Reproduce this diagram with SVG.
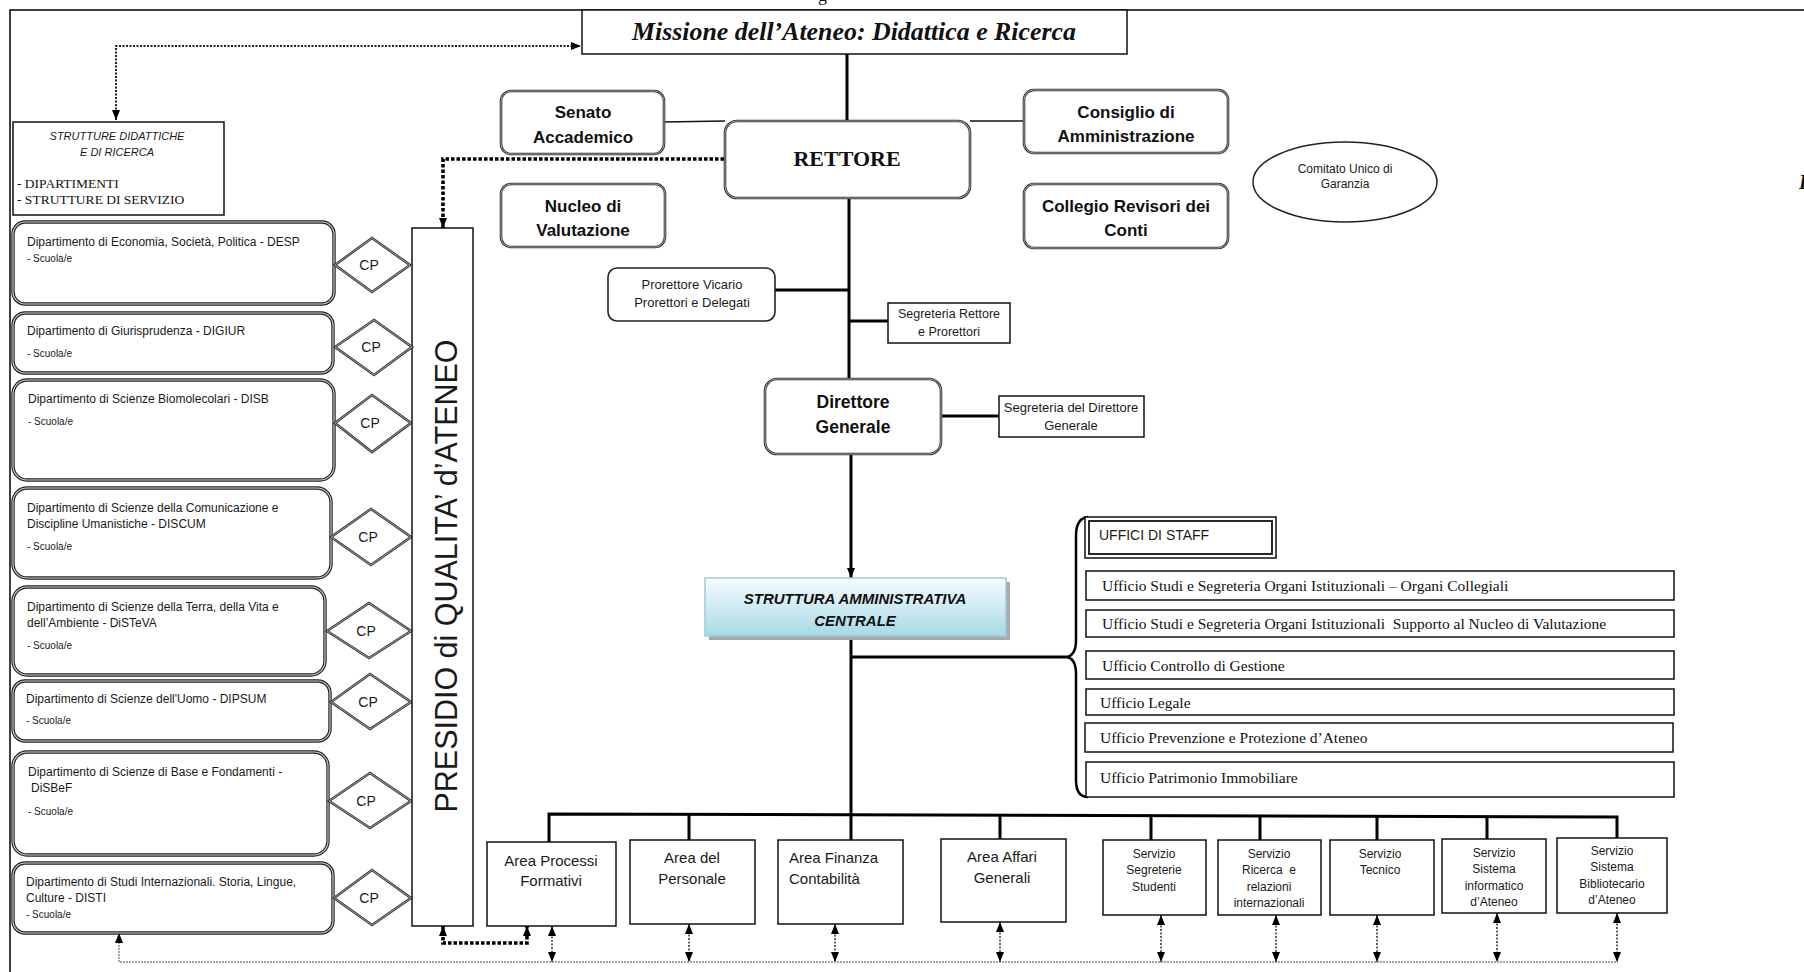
<svg xmlns="http://www.w3.org/2000/svg" width="1804" height="972" viewBox="0 0 1804 972">
<style>
.s{font-family:"Liberation Sans",Arial,sans-serif;fill:#1a1a1a}
.sb{font-family:"Liberation Sans",Arial,sans-serif;font-weight:bold;fill:#111}
.sr{font-family:"Liberation Serif","Times New Roman",serif;fill:#111}
.c{text-anchor:middle}
.box{fill:#fff;stroke:#111;stroke-width:1.5}
.rb{fill:#fff;stroke:#333;stroke-width:2.6}
.rbi{fill:none;stroke:#bbb;stroke-width:0.8}
.db{fill:#fff;stroke:#222;stroke-width:3.4}
.dbi{fill:none;stroke:#d4d4d4;stroke-width:1.1}
.dia{fill:#fff;stroke:#333;stroke-width:2.6}
.diai{fill:none;stroke:#bbb;stroke-width:0.8}
.ln{fill:none;stroke:#000;stroke-width:3}
.lt{fill:none;stroke:#111;stroke-width:1.5}
.dt{fill:none;stroke:#222;stroke-width:2;stroke-dasharray:2 1.5}
.dk{fill:none;stroke:#000;stroke-width:3.6;stroke-dasharray:3.5 2}
.dg{fill:none;stroke:#888;stroke-width:1.5;stroke-dasharray:2 1}
.da{fill:none;stroke:#333;stroke-width:1.5;stroke-dasharray:2 1.5}
.ar{marker-start:url(#ah);marker-end:url(#ah)}
</style>
<defs>
<marker id="ah" viewBox="0 0 10 8" refX="10" refY="4" markerWidth="10" markerHeight="8" markerUnits="userSpaceOnUse" orient="auto-start-reverse">
<path d="M0,0 L10,4 L0,8 z" fill="#000"/>
</marker>
<linearGradient id="gr" x1="0" y1="0" x2="0" y2="1">
<stop offset="0" stop-color="#f6fcfe"/>
<stop offset="1" stop-color="#a6d9e6"/>
</linearGradient>
</defs>
<rect width="1804" height="972" fill="#fff"/>
<path d="M10,972 V10 H1804" fill="none" stroke="#000" stroke-width="1.5"/>
<text class="sr" x="818" y="1" font-size="18">g</text>
<text class="sr" x="1799" y="189" font-size="20" font-weight="bold" font-style="italic">I</text>

<g id="connectors">
<path class="ln" d="M847,54 V121" stroke-width="2.5"/>
<path class="lt" d="M664,122 L725,121"/>
<path class="lt" d="M970,121 L1024,121"/>
<path class="ln" d="M849,198 V379"/>
<path class="ln" d="M775,290 H849"/>
<path class="ln" d="M849,321 H888"/>
<path class="ln" d="M941,416 H999"/>
<path class="ln" d="M851,454 V578" marker-end="url(#ah)"/>
<path class="ln" d="M851,636 V840"/>
<path class="ln" d="M851,657 H1066" stroke-width="2.5"/>
<path class="ln" d="M549,842 V814 L1617,817 V838"/>
<path class="ln" d="M689,815 V840 M1000,816 V839 M1151,816 V840 M1260,816 V840 M1377,816 V840 M1487,817 V839"/>
<path d="M1088,517 Q1076,518 1076,536 L1076,640 Q1076,656 1066,657 Q1076,658 1076,674 L1076,780 Q1076,797 1088,797" fill="none" stroke="#000" stroke-width="2.5"/>
<path class="dt ar" d="M116,120 V46 H581"/>
<path class="dk" d="M724,159 H443 V228" marker-end="url(#ah)"/>
<path class="dk ar" d="M443,926 V943 H527 V926"/>
<path class="dg" d="M119,933 V962 H1618" marker-start="url(#ah)"/>
<path class="da ar" d="M552,926 V962"/>
<path class="da ar" d="M689,924 V962"/>
<path class="da ar" d="M835,924 V962"/>
<path class="da ar" d="M1000,922 V962"/>
<path class="da ar" d="M1161,915 V962"/>
<path class="da ar" d="M1276,915 V962"/>
<path class="da ar" d="M1377,915 V962"/>
<path class="da ar" d="M1497,913 V962"/>
<path class="da ar" d="M1617,913 V962"/>
</g>

<g id="missione">
<rect class="box" x="582" y="10" width="545" height="44"/>
<text class="sr c" x="854" y="40" font-size="25" font-weight="bold" font-style="italic" textLength="444" lengthAdjust="spacingAndGlyphs">Missione dell’Ateneo: Didattica e Ricerca</text>
</g>

<g id="strutture-didattiche">
<rect class="box" x="13" y="122" width="211" height="93"/>
<text class="s c" x="117" y="140" font-size="11" font-style="italic">STRUTTURE DIDATTICHE</text>
<text class="s c" x="117" y="156" font-size="11" font-style="italic">E DI RICERCA</text>
<text class="sr" x="17" y="188" font-size="13.5">- DIPARTIMENTI</text>
<text class="sr" x="17" y="204" font-size="13.5">- STRUTTURE DI SERVIZIO</text>
</g>

<g id="senato">
<rect class="rb" x="501" y="91" width="163" height="63" rx="10"/>
<rect class="rbi" x="501" y="91" width="163" height="63" rx="10"/>
<text class="sb c" x="583" y="118" font-size="17">Senato</text>
<text class="sb c" x="583" y="143" font-size="17">Accademico</text>
</g>

<g id="nucleo">
<rect class="rb" x="501" y="184" width="164" height="63" rx="10"/>
<rect class="rbi" x="501" y="184" width="164" height="63" rx="10"/>
<text class="sb c" x="583" y="212" font-size="17">Nucleo di</text>
<text class="sb c" x="583" y="236" font-size="17">Valutazione</text>
</g>

<g id="rettore">
<rect class="rb" x="725" y="121" width="245" height="77" rx="12"/>
<rect class="rbi" x="725" y="121" width="245" height="77" rx="12"/>
<text class="sr c" x="847" y="166" font-size="22" font-weight="bold">RETTORE</text>
</g>

<g id="consiglio">
<rect class="rb" x="1024" y="90" width="204" height="63" rx="10"/>
<rect class="rbi" x="1024" y="90" width="204" height="63" rx="10"/>
<text class="sb c" x="1126" y="118" font-size="17">Consiglio di</text>
<text class="sb c" x="1126" y="142" font-size="17">Amministrazione</text>
</g>

<g id="collegio">
<rect class="rb" x="1024" y="184" width="204" height="64" rx="10"/>
<rect class="rbi" x="1024" y="184" width="204" height="64" rx="10"/>
<text class="sb c" x="1126" y="212" font-size="17">Collegio Revisori dei</text>
<text class="sb c" x="1126" y="236" font-size="17">Conti</text>
</g>

<g id="comitato">
<ellipse cx="1345" cy="182" rx="92" ry="40" fill="#fff" stroke="#222" stroke-width="1.5"/>
<text class="s c" x="1345" y="173" font-size="12">Comitato Unico di</text>
<text class="s c" x="1345" y="188" font-size="12">Garanzia</text>
</g>

<g id="prorettore">
<rect x="608" y="268" width="167" height="53" rx="9" fill="#fff" stroke="#222" stroke-width="1.6"/>
<text class="s c" x="692" y="289" font-size="13">Prorettore Vicario</text>
<text class="s c" x="692" y="307" font-size="13">Prorettori e Delegati</text>
</g>

<g id="segreteria-rettore">
<rect class="box" x="888" y="303" width="122" height="40"/>
<text class="s c" x="949" y="318" font-size="12.5">Segreteria Rettore</text>
<text class="s c" x="949" y="336" font-size="12.5">e Prorettori</text>
</g>

<g id="direttore">
<rect class="rb" x="765" y="379" width="176" height="75" rx="12"/>
<rect class="rbi" x="765" y="379" width="176" height="75" rx="12"/>
<text class="sb c" x="853" y="408" font-size="17.5">Direttore</text>
<text class="sb c" x="853" y="433" font-size="17.5">Generale</text>
</g>

<g id="segreteria-direttore">
<rect class="box" x="999" y="396" width="145" height="41"/>
<text class="s c" x="1071" y="412" font-size="13">Segreteria del Direttore</text>
<text class="s c" x="1071" y="430" font-size="13">Generale</text>
</g>

<g id="struttura-amministrativa">
<rect x="709" y="582" width="301" height="58" fill="#a9a9a9"/>
<rect x="705" y="578" width="301" height="58" fill="url(#gr)" stroke="#9fcbd8" stroke-width="1.5"/>
<text class="sb c" x="855" y="604" font-size="15" font-style="italic" fill="#222">STRUTTURA AMMINISTRATIVA</text>
<text class="sb c" x="855" y="626" font-size="15" font-style="italic" fill="#222">CENTRALE</text>
</g>

<g id="presidio">
<rect class="box" x="412" y="228" width="61" height="698"/>
<text class="s c" transform="translate(457,576) rotate(-90)" font-size="31" textLength="473" lengthAdjust="spacingAndGlyphs">PRESIDIO di QUALITA’ d’ATENEO</text>
</g>

<g id="dip-desp">
<rect class="db" x="13" y="222" width="321" height="82" rx="12"/>
<rect class="dbi" x="13" y="222" width="321" height="82" rx="12"/>
<text class="s" x="27" y="246" font-size="12">Dipartimento di Economia, Società, Politica - DESP</text>
<text class="s" x="27" y="262" font-size="10">- Scuola/e</text>
</g>
<g id="dip-digiur">
<rect class="db" x="13" y="313" width="320" height="60" rx="12"/>
<rect class="dbi" x="13" y="313" width="320" height="60" rx="12"/>
<text class="s" x="27" y="335" font-size="12">Dipartimento di Giurisprudenza - DIGIUR</text>
<text class="s" x="27" y="357" font-size="10">- Scuola/e</text>
</g>
<g id="dip-disb">
<rect class="db" x="13" y="380" width="321" height="100" rx="14"/>
<rect class="dbi" x="13" y="380" width="321" height="100" rx="14"/>
<text class="s" x="28" y="403" font-size="12">Dipartimento di Scienze Biomolecolari - DISB</text>
<text class="s" x="28" y="425" font-size="10">- Scuola/e</text>
</g>
<g id="dip-discum">
<rect class="db" x="13" y="488" width="318" height="90" rx="14"/>
<rect class="dbi" x="13" y="488" width="318" height="90" rx="14"/>
<text class="s" x="27" y="512" font-size="12">Dipartimento di Scienze della Comunicazione e</text>
<text class="s" x="27" y="528" font-size="12">Discipline Umanistiche - DISCUM</text>
<text class="s" x="27" y="550" font-size="10">- Scuola/e</text>
</g>
<g id="dip-disteva">
<rect class="db" x="13" y="587" width="312" height="88" rx="14"/>
<rect class="dbi" x="13" y="587" width="312" height="88" rx="14"/>
<text class="s" x="27" y="611" font-size="12">Dipartimento di Scienze della Terra, della Vita e</text>
<text class="s" x="27" y="627" font-size="12">dell’Ambiente - DiSTeVA</text>
<text class="s" x="27" y="649" font-size="10">- Scuola/e</text>
</g>
<g id="dip-dipsum">
<rect class="db" x="13" y="681" width="317" height="60" rx="12"/>
<rect class="dbi" x="13" y="681" width="317" height="60" rx="12"/>
<text class="s" x="26" y="703" font-size="12">Dipartimento di Scienze dell'Uomo - DIPSUM</text>
<text class="s" x="26" y="724" font-size="10">- Scuola/e</text>
</g>
<g id="dip-disbef">
<rect class="db" x="13" y="752" width="315" height="103" rx="14"/>
<rect class="dbi" x="13" y="752" width="315" height="103" rx="14"/>
<text class="s" x="28" y="776" font-size="12">Dipartimento di Scienze di Base e Fondamenti -</text>
<text class="s" x="31" y="792" font-size="12">DiSBeF</text>
<text class="s" x="28" y="815" font-size="10">- Scuola/e</text>
</g>
<g id="dip-disti">
<rect class="db" x="13" y="863" width="320" height="70" rx="12"/>
<rect class="dbi" x="13" y="863" width="320" height="70" rx="12"/>
<text class="s" x="26" y="886" font-size="12">Dipartimento di Studi Internazionali. Storia, Lingue,</text>
<text class="s" x="26" y="902" font-size="12">Culture - DISTI</text>
<text class="s" x="26" y="918" font-size="10">- Scuola/e</text>
</g>

<g id="cp-desp"><path class="dia" d="M335,265 L372,238 L410,265 L372,292 z"/><path class="diai" d="M335,265 L372,238 L410,265 L372,292 z"/><text class="s c" x="369" y="270" font-size="14">CP</text></g>
<g id="cp-digiur"><path class="dia" d="M335,347 L374,320 L412,347 L374,375 z"/><path class="diai" d="M335,347 L374,320 L412,347 L374,375 z"/><text class="s c" x="371" y="352" font-size="14">CP</text></g>
<g id="cp-disb"><path class="dia" d="M335,423 L372,395 L411,423 L372,452 z"/><path class="diai" d="M335,423 L372,395 L411,423 L372,452 z"/><text class="s c" x="370" y="428" font-size="14">CP</text></g>
<g id="cp-discum"><path class="dia" d="M331,537 L371,509 L411,537 L371,565 z"/><path class="diai" d="M331,537 L371,509 L411,537 L371,565 z"/><text class="s c" x="368" y="542" font-size="14">CP</text></g>
<g id="cp-disteva"><path class="dia" d="M327,631 L369,603 L411,631 L369,658 z"/><path class="diai" d="M327,631 L369,603 L411,631 L369,658 z"/><text class="s c" x="366" y="636" font-size="14">CP</text></g>
<g id="cp-dipsum"><path class="dia" d="M331,702 L370,674 L411,702 L370,729 z"/><path class="diai" d="M331,702 L370,674 L411,702 L370,729 z"/><text class="s c" x="368" y="707" font-size="14">CP</text></g>
<g id="cp-disbef"><path class="dia" d="M329,801 L370,773 L411,801 L370,828 z"/><path class="diai" d="M329,801 L370,773 L411,801 L370,828 z"/><text class="s c" x="366" y="806" font-size="14">CP</text></g>
<g id="cp-disti"><path class="dia" d="M334,898 L372,870 L411,898 L372,925 z"/><path class="diai" d="M334,898 L372,870 L411,898 L372,925 z"/><text class="s c" x="369" y="903" font-size="14">CP</text></g>

<g id="uffici-staff">
<rect class="box" x="1085" y="517" width="191" height="41" stroke-width="1.2"/>
<rect x="1089" y="521" width="183" height="33" fill="none" stroke="#111" stroke-width="1.8"/>
<text class="s" x="1099" y="540" font-size="14">UFFICI DI STAFF</text>
</g>
<g id="uff-organi">
<rect class="box" x="1086" y="571" width="588" height="29"/>
<text class="sr" x="1102" y="591" font-size="15.5">Ufficio Studi e Segreteria Organi Istituzionali – Organi Collegiali</text>
</g>
<g id="uff-nucleo">
<rect class="box" x="1086" y="610" width="588" height="27"/>
<text class="sr" x="1102" y="629" font-size="15.5">Ufficio Studi e Segreteria Organi Istituzionali &#160;Supporto al Nucleo di Valutazione</text>
</g>
<g id="uff-controllo">
<rect class="box" x="1086" y="651" width="588" height="28"/>
<text class="sr" x="1102" y="671" font-size="15.5">Ufficio Controllo di Gestione</text>
</g>
<g id="uff-legale">
<rect class="box" x="1086" y="689" width="588" height="26"/>
<text class="sr" x="1100" y="708" font-size="15.5">Ufficio Legale</text>
</g>
<g id="uff-prevenzione">
<rect class="box" x="1085" y="723" width="588" height="29"/>
<text class="sr" x="1100" y="743" font-size="15.5">Ufficio Prevenzione e Protezione d’Ateneo</text>
</g>
<g id="uff-patrimonio">
<rect class="box" x="1086" y="762" width="588" height="35"/>
<text class="sr" x="1100" y="783" font-size="15.5">Ufficio Patrimonio Immobiliare</text>
</g>

<g id="area-processi">
<rect class="box" x="487" y="842" width="129" height="84"/>
<text class="s c" x="551" y="866" font-size="15">Area Processi</text>
<text class="s c" x="551" y="886" font-size="15">Formativi</text>
</g>
<g id="area-personale">
<rect class="box" x="630" y="840" width="125" height="84"/>
<text class="s c" x="692" y="863" font-size="15">Area del</text>
<text class="s c" x="692" y="884" font-size="15">Personale</text>
</g>
<g id="area-finanza">
<rect class="box" x="778" y="840" width="125" height="84"/>
<text class="s" x="789" y="863" font-size="15">Area Finanza</text>
<text class="s" x="789" y="884" font-size="15">Contabilità</text>
</g>
<g id="area-affari">
<rect class="box" x="941" y="839" width="125" height="83"/>
<text class="s c" x="1002" y="862" font-size="15">Area Affari</text>
<text class="s c" x="1002" y="883" font-size="15">Generali</text>
</g>
<g id="serv-segreterie">
<rect class="box" x="1103" y="840" width="103" height="75"/>
<text class="s c" x="1154" y="858" font-size="12">Servizio</text>
<text class="s c" x="1154" y="874" font-size="12">Segreterie</text>
<text class="s c" x="1154" y="891" font-size="12">Studenti</text>
</g>
<g id="serv-ricerca">
<rect class="box" x="1218" y="840" width="103" height="75"/>
<text class="s c" x="1269" y="858" font-size="12">Servizio</text>
<text class="s c" x="1269" y="874" font-size="12">Ricerca &#160;e</text>
<text class="s c" x="1269" y="891" font-size="12">relazioni</text>
<text class="s c" x="1269" y="907" font-size="12">internazionali</text>
</g>
<g id="serv-tecnico">
<rect class="box" x="1330" y="840" width="104" height="75"/>
<text class="s c" x="1380" y="858" font-size="12">Servizio</text>
<text class="s c" x="1380" y="874" font-size="12">Tecnico</text>
</g>
<g id="serv-informatico">
<rect class="box" x="1442" y="839" width="104" height="74"/>
<text class="s c" x="1494" y="857" font-size="12">Servizio</text>
<text class="s c" x="1494" y="873" font-size="12">Sistema</text>
<text class="s c" x="1494" y="890" font-size="12">informatico</text>
<text class="s c" x="1494" y="906" font-size="12">d’Ateneo</text>
</g>
<g id="serv-bibliotecario">
<rect class="box" x="1557" y="838" width="110" height="75"/>
<text class="s c" x="1612" y="855" font-size="12">Servizio</text>
<text class="s c" x="1612" y="871" font-size="12">Sistema</text>
<text class="s c" x="1612" y="888" font-size="12">Bibliotecario</text>
<text class="s c" x="1612" y="904" font-size="12">d’Ateneo</text>
</g>
</svg>
